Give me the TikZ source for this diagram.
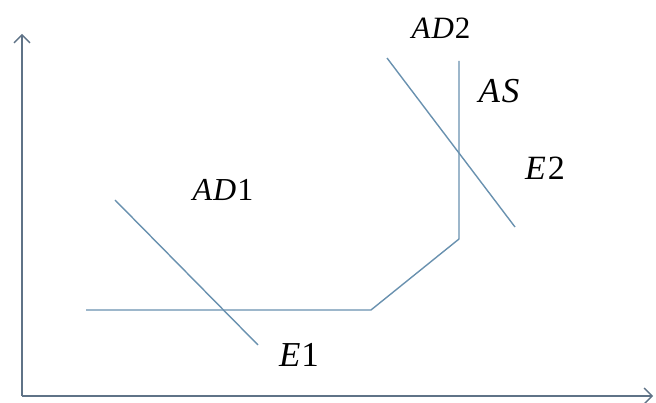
\documentclass[tikz,border=0pt]{standalone}
\usepackage{fontspec}
\setmainfont{Liberation Serif}
\usetikzlibrary{arrows.meta}
\definecolor{axiscol}{RGB}{95,115,135}
\definecolor{linecol}{RGB}{105,145,175}
\tikzset{
  axisline/.style={draw=axiscol,line width=1.8pt,-{Straight Barb[length=8pt,width=16pt,line width=1.4pt]}},
  curveline/.style={draw=linecol,line width=1.4pt},
  lbl/.style={inner sep=0pt,font=\fontsize{31}{33}\selectfont}
}
\begin{document}
\begin{tikzpicture}[x=1pt,y=-1pt]
\useasboundingbox (0,0) rectangle (656,403);
% axes
\coordinate (O) at (22,396);
\coordinate (ytop) at (22,34);
\coordinate (xend) at (653,396);
\draw[axisline] (O) -- (ytop);
\draw[axisline] (O) -- (xend);
% AS curve
\coordinate (s1) at (86,310);
\coordinate (s2) at (371,310);
\coordinate (s3) at (459,239);
\coordinate (s4) at (459,61);
\draw[curveline] (s1) -- (s2) -- (s3) -- (s4);
% AD1
\coordinate (a1) at (115,200);
\coordinate (b1) at (258,345);
\draw[curveline] (a1) -- (b1);
% AD2
\coordinate (a2) at (387,58);
\coordinate (b2) at (515,227);
\draw[curveline] (a2) -- (b2);
% labels
\node[lbl] (lAD2) at (441,28) {\textit{A\kern1pt D}\kern1pt 2};
\node[lbl,font=\fontsize{35}{37}\selectfont] (lAS) at (499,91) {\textit{A\kern2pt S}};
\node[lbl,font=\fontsize{34}{36}\selectfont] (lE2) at (545,168) {\textit{E}\kern2pt 2};
\node[lbl,font=\fontsize{32}{34}\selectfont] (lAD1) at (223,190) {\textit{A\kern1pt D}\kern1pt 1};
\node[lbl,font=\fontsize{35}{37}\selectfont] (lE1) at (299,355) {\textit{E}\kern1pt 1};
\end{tikzpicture}
\end{document}
